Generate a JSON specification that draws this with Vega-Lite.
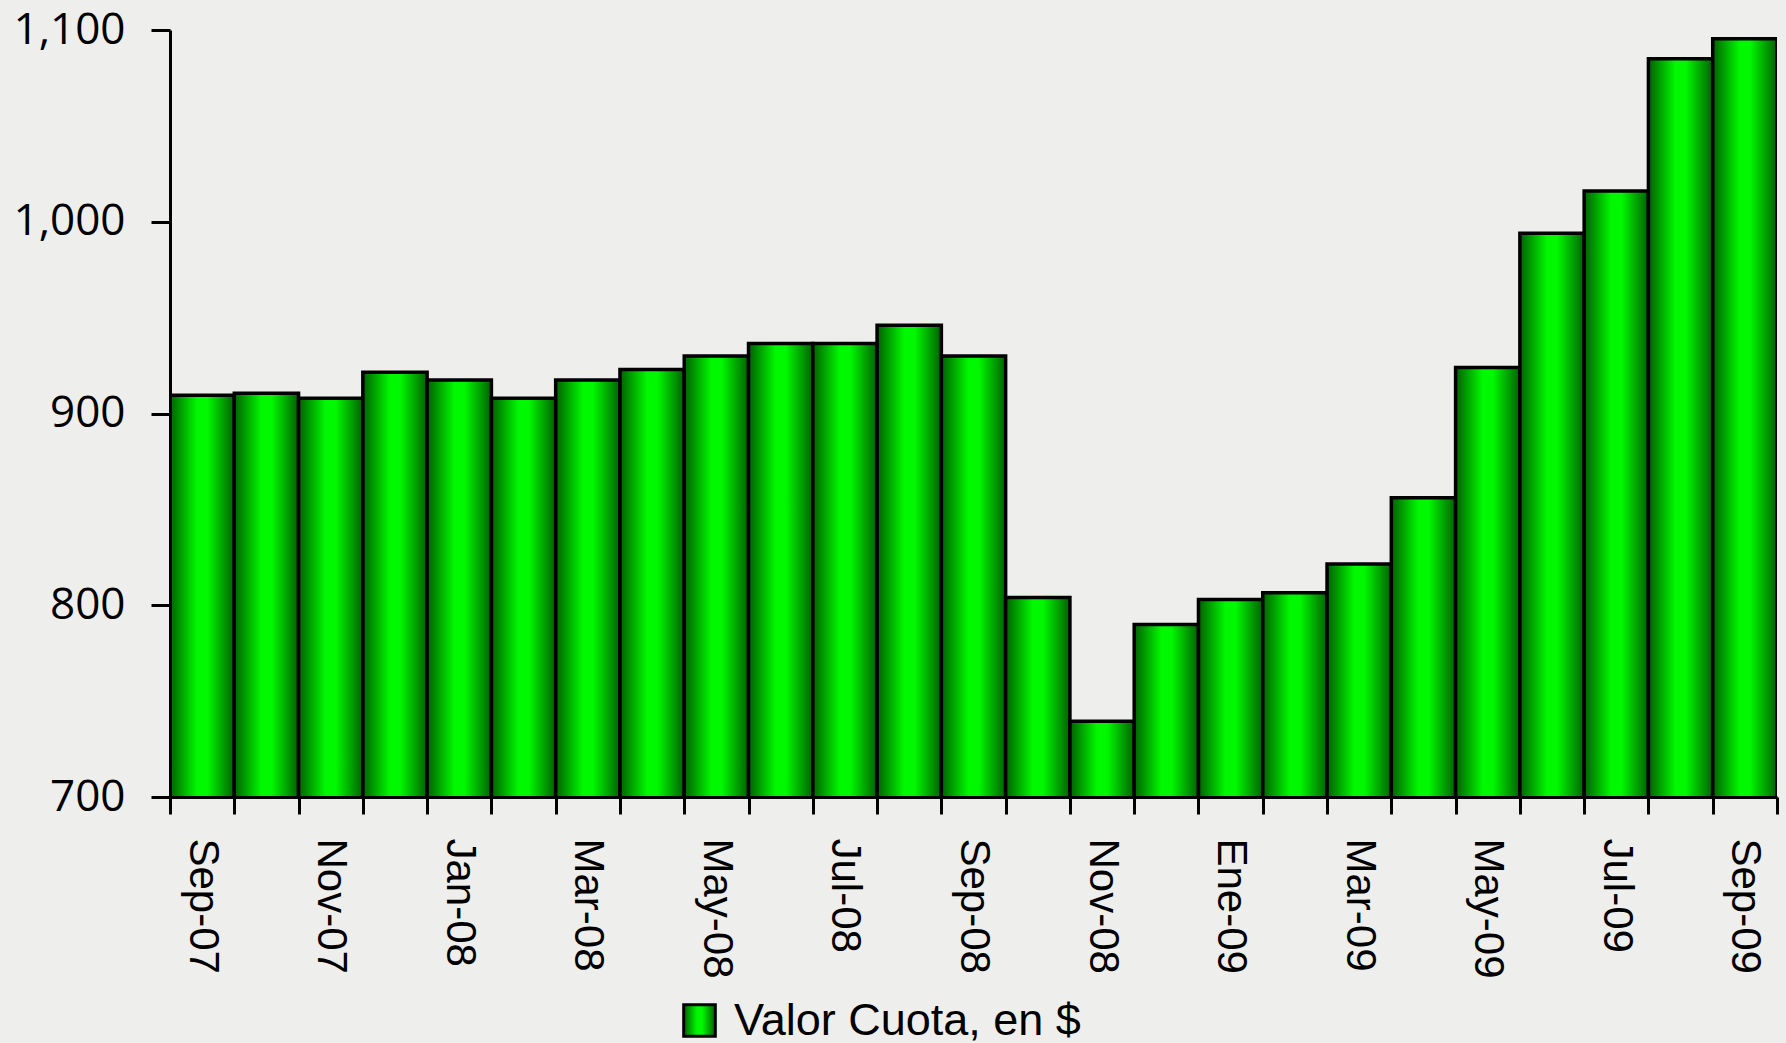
{
"$schema":"https://vega.github.io/schema/vega-lite/v6.json",
"width":1607,"height":767,
"autosize":{"type":"none"},
"padding":{"left":170,"top":30,"right":9,"bottom":246},
"background":"#eeeeec",
"config":{"view":{"stroke":null}},
"data":{"values":[
{"mes":"Sep-07","valor":909.5,"serie":"Valor Cuota, en $"},
{"mes":"Oct-07","valor":910.5,"serie":"Valor Cuota, en $"},
{"mes":"Nov-07","valor":908,"serie":"Valor Cuota, en $"},
{"mes":"Dic-07","valor":921.5,"serie":"Valor Cuota, en $"},
{"mes":"Jan-08","valor":917.5,"serie":"Valor Cuota, en $"},
{"mes":"Feb-08","valor":908,"serie":"Valor Cuota, en $"},
{"mes":"Mar-08","valor":917.5,"serie":"Valor Cuota, en $"},
{"mes":"Abr-08","valor":923,"serie":"Valor Cuota, en $"},
{"mes":"May-08","valor":930,"serie":"Valor Cuota, en $"},
{"mes":"Jun-08","valor":936.5,"serie":"Valor Cuota, en $"},
{"mes":"Jul-08","valor":936.5,"serie":"Valor Cuota, en $"},
{"mes":"Ago-08","valor":946,"serie":"Valor Cuota, en $"},
{"mes":"Sep-08","valor":930,"serie":"Valor Cuota, en $"},
{"mes":"Oct-08","valor":804,"serie":"Valor Cuota, en $"},
{"mes":"Nov-08","valor":739.5,"serie":"Valor Cuota, en $"},
{"mes":"Dic-08","valor":790,"serie":"Valor Cuota, en $"},
{"mes":"Ene-09","valor":803,"serie":"Valor Cuota, en $"},
{"mes":"Feb-09","valor":806.5,"serie":"Valor Cuota, en $"},
{"mes":"Mar-09","valor":821.5,"serie":"Valor Cuota, en $"},
{"mes":"Abr-09","valor":856,"serie":"Valor Cuota, en $"},
{"mes":"May-09","valor":924,"serie":"Valor Cuota, en $"},
{"mes":"Jun-09","valor":994,"serie":"Valor Cuota, en $"},
{"mes":"Jul-09","valor":1016,"serie":"Valor Cuota, en $"},
{"mes":"Ago-09","valor":1085,"serie":"Valor Cuota, en $"},
{"mes":"Sep-09","valor":1095.5,"serie":"Valor Cuota, en $"}
]},
"mark":{"type":"bar","strokeWidth":3.5,"clip":true,"fill":{"gradient":"linear","x1":0,"x2":1,"y1":0,"y2":0,"stops":[{"offset":0,"color":"#006000"},{"offset":0.42,"color":"#00f800"},{"offset":0.58,"color":"#00f800"},{"offset":1,"color":"#006000"}]}},
"encoding":{
"x":{"field":"mes","type":"nominal","sort":null,"title":null,
 "scale":{"paddingInner":0,"paddingOuter":0},
 "axis":{"zindex":1,"tickBand":"extent","labelAngle":90,"labelAlign":"left","labelBaseline":"middle","labelFont":"Liberation Sans","labelFontSize":42,"labelColor":"#000000","labelPadding":24,"labelOverlap":false,"labelBound":false,"labelFlush":false,"tickSize":17,"tickWidth":3,"tickColor":"#000000","domainColor":"#000000","domainWidth":3,"grid":false,"labelExpr":"round(datum.index*24)%2==0?datum.label:''"}},
"y":{"field":"valor","type":"quantitative","title":null,
 "scale":{"domain":[700,1100],"zero":false,"nice":false},
 "axis":{"zindex":1,"values":[700,800,900,1000,1100],"format":",d","labelFont":"Open Sans","labelFontSize":44,"labelColor":"#000000","labelPadding":26,"labelBound":false,"tickSize":19,"tickWidth":3,"tickColor":"#000000","domainColor":"#000000","domainWidth":3,"grid":false}},
"stroke":{"field":"serie","type":"nominal","title":null,
 "scale":{"range":["#000000"]},
 "legend":{"orient":"none","legendX":507,"legendY":968,"symbolType":"square","symbolSize":1000,"symbolStrokeWidth":3,"labelFont":"Liberation Sans","labelFontSize":45,"labelColor":"#000000","labelLimit":500,"labelOffset":12,
  "encode":{"symbols":{"update":{"fill":{"value":{"gradient":"linear","x1":0,"x2":1,"y1":0,"y2":0,"stops":[{"offset":0,"color":"#006000"},{"offset":0.42,"color":"#00f800"},{"offset":0.58,"color":"#00f800"},{"offset":1,"color":"#006000"}]}},"opacity":{"value":1}}}}}}
}
}
